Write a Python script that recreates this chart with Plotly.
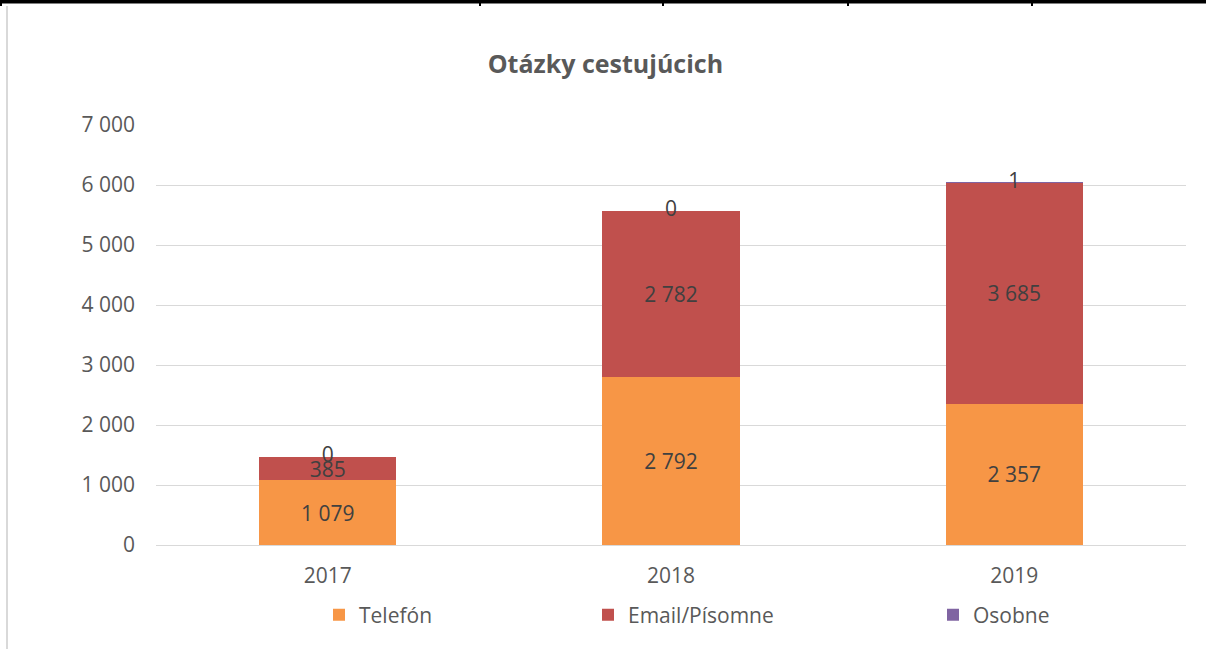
import plotly.graph_objects as go

years = ["2017", "2018", "2019"]
telefon = [1079, 2792, 2357]
email = [385, 2782, 3685]
osobne = [0, 0, 1]
series_names = ["Telefón", "Email/Písomne", "Osobne"]
colors = ["#F79646", "#C0504D", "#8064A2"]
y_ticks = [0, 1000, 2000, 3000, 4000, 5000, 6000, 7000]

W, H = 1206, 649
L, R, T, B = 156, 20, 125, 104
pw, ph = W - L - R, H - T - B

def px(x):
    return (x - L) / pw

def py(y):
    return (H - B - y) / ph

FONT = "Open Sans"
TXT = "#404040"
AX = "#595959"

fig = go.Figure()
fig.add_trace(go.Bar(x=years, y=telefon, name=series_names[0], marker_color=colors[0],
                     marker_line_width=0,
                     texttemplate="%{y:,d}", textposition="inside", insidetextanchor="middle",
                     constraintext="none", textfont=dict(size=21, color=TXT, family=FONT),
                     legend="legend"))
fig.add_trace(go.Bar(x=years, y=email, name=series_names[1], marker_color=colors[1],
                     marker_line_width=0,
                     texttemplate="%{y:,d}", textposition="inside", insidetextanchor="middle",
                     constraintext="none", textfont=dict(size=21, color=TXT, family=FONT),
                     legend="legend2"))
fig.add_trace(go.Bar(x=years, y=osobne, name=series_names[2], marker_color=colors[2],
                     marker_line_width=0, textposition="none", legend="legend3"))
totals = [a + b + c for a, b, c in zip(telefon, email, osobne)]
fig.add_trace(go.Scatter(x=years, y=totals, mode="text", text=[str(v) for v in osobne],
                         textposition="middle center", showlegend=False,
                         textfont=dict(size=21, color=TXT, family=FONT), hoverinfo="skip"))

shapes = [
    dict(type="rect", xref="paper", yref="paper", x0=px(0), x1=px(W), y0=py(0), y1=py(3.5),
         fillcolor="black", line_width=0, layer="above"),
    dict(type="rect", xref="paper", yref="paper", x0=px(0), x1=px(2), y0=py(0), y1=py(6),
         fillcolor="black", line_width=0, layer="above"),
    dict(type="line", xref="paper", yref="paper", x0=px(7), x1=px(7), y0=py(6), y1=py(H),
         line=dict(color="#D9D9D9", width=2), layer="above"),
]
for vx in [480, 663, 848, 1032]:
    shapes.append(dict(type="rect", xref="paper", yref="paper", x0=px(vx - 1), x1=px(vx + 1),
                       y0=py(0), y1=py(6), fillcolor="black", line_width=0, layer="above"))

leg_common = dict(orientation="h", xanchor="left", yanchor="middle", yref="paper",
                  font=dict(size=21, color=AX, family=FONT), bgcolor="rgba(0,0,0,0)",
                  itemwidth=30, traceorder="normal")

fig.update_layout(
    width=W, height=H,
    margin=dict(l=L, r=R, t=T, b=B, autoexpand=False),
    paper_bgcolor="white", plot_bgcolor="white",
    barmode="stack", bargap=0.6,
    separators=", ",
    font=dict(family=FONT, color=AX, size=21),
    title=dict(text="<b>Otázky cestujúcich</b>", x=0.502, xanchor="center", xref="container",
               y=1 - 64 / H, yanchor="middle", yref="container",
               font=dict(size=25, color=AX, family=FONT)),
    xaxis=dict(showgrid=False, showline=True, linecolor="#D9D9D9", linewidth=1,
               tickfont=dict(size=21, color=AX, family=FONT), ticks="", ticklabelstandoff=12),
    yaxis=dict(range=[0, 7000], tickvals=y_ticks, tickformat=",d", showgrid=True,
               gridcolor="#D9D9D9", gridwidth=1, zeroline=False, showline=False,
               tickfont=dict(size=21, color=AX, family=FONT), ticklabelstandoff=20),
    legend=dict(x=px(319), y=py(615), **leg_common),
    legend2=dict(x=px(588), y=py(615), **leg_common),
    legend3=dict(x=px(933), y=py(615), **leg_common),
    shapes=shapes,
    uniformtext=dict(minsize=21, mode="show"),
)

fig.write_html("out.html", config={"displayModeBar": False},
               post_script="document.body.style.margin='0';")
